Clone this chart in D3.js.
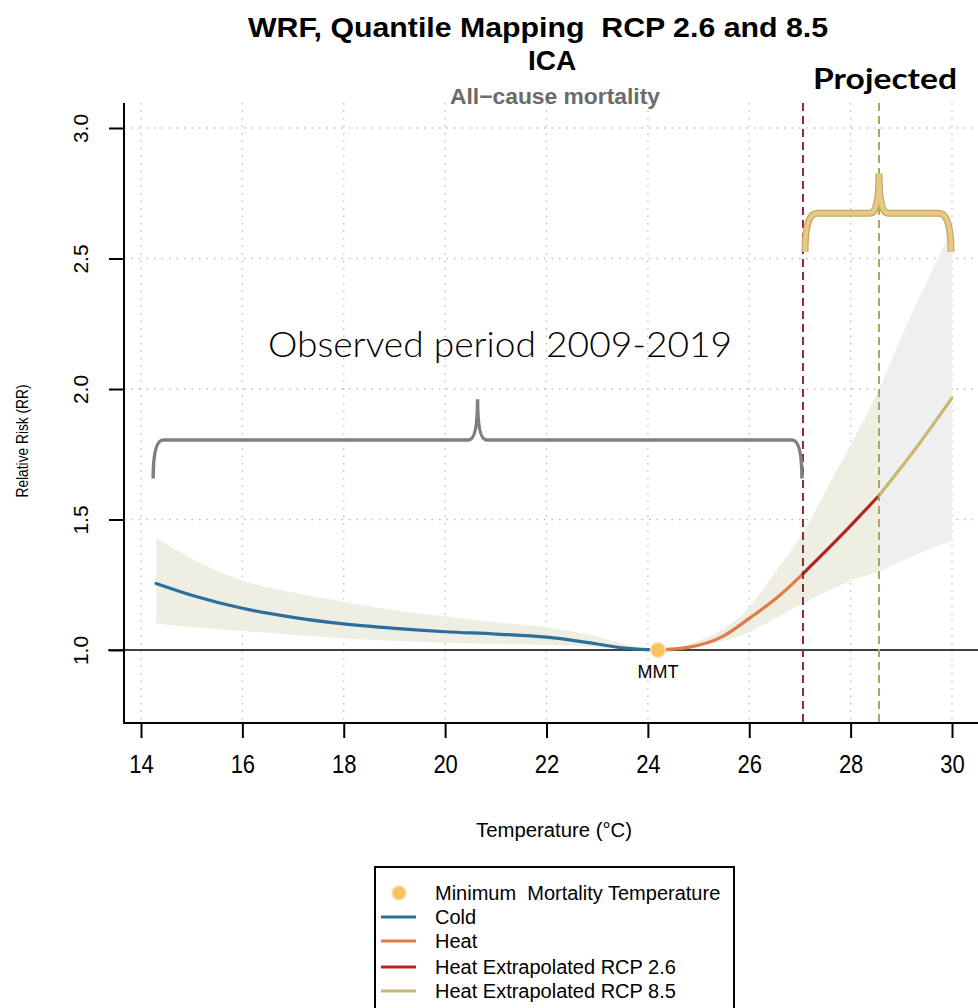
<!DOCTYPE html>
<html>
<head>
<meta charset="utf-8">
<script src="https://cdn.jsdelivr.net/npm/d3@7"></script>
<style>
  body { margin: 0; background: white; }
  svg { display: block; font-family: "Liberation Sans", Arial, sans-serif; }
</style>
</head>
<body>
<div id="chart"></div>
<script>
// Values (temperature in °C, relative risk)
const xTicks = [14, 16, 18, 20, 22, 24, 26, 28, 30];
const yTicks = [1.0, 1.5, 2.0, 2.5, 3.0];

const mmtTemp = 24.2;
const cutRcp26 = 27.06;   // red dashed line
const cutRcp85 = 28.56;   // olive dashed line

// cold branch
const coldTemp  = [14.3, 15, 16, 17, 18, 19, 20, 21, 22, 23, 23.6, 24.2];
const coldRR    = [1.255, 1.21, 1.16, 1.125, 1.10, 1.083, 1.070, 1.061, 1.049, 1.023, 1.006, 1.0];
const coldUpper = [1.43, 1.35, 1.266, 1.22, 1.185, 1.152, 1.128, 1.106, 1.087, 1.051, 1.02, 1.0];
const coldLower = [1.102, 1.088, 1.073, 1.058, 1.045, 1.035, 1.028, 1.023, 1.019, 1.01, 1.004, 1.0];

// heat branch (observed)
const heatTemp = [24.2, 24.8, 25.46, 26.02, 26.58, 27.06];
const heatRR   = [1.0, 1.01, 1.05, 1.124, 1.206, 1.292];

// extrapolations
const rcp26Temp = [27.06, 27.79, 28.56];
const rcp26RR   = [1.292, 1.434, 1.592];
const rcp85Temp = [28.56, 29.28, 30.0];
const rcp85RR   = [1.592, 1.771, 1.966];

// confidence band on the heat side up to the RCP 8.5 line
const heatBandTemp  = [24.2, 24.6, 25.0, 25.5, 26.0, 26.5, 27.06, 27.59, 28.07, 28.56];
const heatBandUpper = [1.0, 1.01, 1.035, 1.08, 1.165, 1.295, 1.45, 1.64, 1.81, 1.996];
const heatBandLower = [1.0, 1.002, 1.012, 1.035, 1.068, 1.12, 1.178, 1.23, 1.27, 1.30];

// band beyond the RCP 8.5 line (grey)
const farBandTemp  = [28.56, 29.23, 29.6, 30.0];
const farBandUpper = [1.996, 2.30, 2.45, 2.62];
const farBandLower = [1.30, 1.36, 1.39, 1.42];

const legendLabels = ["Minimum  Mortality Temperature", "Cold", "Heat",
                      "Heat Extrapolated RCP 2.6", "Heat Extrapolated RCP 8.5"];

const width = 978, height = 1008;
const plot = { left: 124, top: 103, bottom: 723, right: 978 };

const svg = d3.select('#chart')
  .append('svg')
  .attr('width', width)
  .attr('height', height);

const x = d3.scaleLinear().domain([14, 30]).range([141, 952]);
const y = d3.scaleLinear().domain([1, 3]).range([650, 128]);

const zip = (ts, vs) => ts.map((t, i) => ({ t: t, v: vs[i] }));
const zipBand = (ts, lo, hi) => ts.map((t, i) => ({ t: t, lo: lo[i], hi: hi[i] }));

// dotted grid
svg.append('g').selectAll('line')
  .data(xTicks).enter().append('line')
  .attr('x1', d => x(d)).attr('x2', d => x(d))
  .attr('y1', plot.top).attr('y2', plot.bottom)
  .attr('stroke', '#bdbdbd').attr('stroke-width', 1.3)
  .attr('stroke-dasharray', '1.5,6');

svg.append('g').selectAll('line')
  .data(yTicks.filter(d => d > 1)).enter().append('line')
  .attr('x1', plot.left).attr('x2', plot.right)
  .attr('y1', d => y(d)).attr('y2', d => y(d))
  .attr('stroke', '#bdbdbd').attr('stroke-width', 1.3)
  .attr('stroke-dasharray', '1.5,6');

// confidence bands
const area = d3.area()
  .x(d => x(d.t)).y0(d => y(d.lo)).y1(d => y(d.hi))
  .curve(d3.curveMonotoneX);

svg.append('path')
  .datum(zipBand(farBandTemp, farBandLower, farBandUpper))
  .attr('d', area).attr('fill', '#efefef');

svg.append('path')
  .datum(zipBand(coldTemp, coldLower, coldUpper))
  .attr('d', area).attr('fill', '#eeeee2');

svg.append('path')
  .datum(zipBand(heatBandTemp, heatBandLower, heatBandUpper))
  .attr('d', area).attr('fill', '#eeeee2');

// RR = 1 reference line
svg.append('line')
  .attr('x1', 108).attr('x2', plot.right)
  .attr('y1', y(1)).attr('y2', y(1))
  .attr('stroke', 'black').attr('stroke-width', 1.5);

// curves
const line = d3.line()
  .x(d => x(d.t)).y(d => y(d.v))
  .curve(d3.curveMonotoneX);

const series = [
  { t: coldTemp,  v: coldRR,  color: '#2c6e9c' },
  { t: heatTemp,  v: heatRR,  color: '#e27b47' },
  { t: rcp26Temp, v: rcp26RR, color: '#b3261e' },
  { t: rcp85Temp, v: rcp85RR, color: '#c9b872' }
];
series.forEach(s => {
  svg.append('path')
    .datum(zip(s.t, s.v))
    .attr('d', line)
    .attr('fill', 'none')
    .attr('stroke', s.color)
    .attr('stroke-width', 3.2)
    .attr('stroke-linecap', 'round');
});

// projection cut lines
[[cutRcp26, '#8e2a3c'], [cutRcp85, '#aaa765']].forEach(c => {
  svg.append('line')
    .attr('x1', x(c[0])).attr('x2', x(c[0]))
    .attr('y1', plot.top).attr('y2', plot.bottom)
    .attr('stroke', c[1]).attr('stroke-width', 2)
    .attr('stroke-dasharray', '8,5');
});

// MMT point
svg.append('circle')
  .attr('cx', x(mmtTemp)).attr('cy', y(1)).attr('r', 7.5)
  .attr('fill', '#f6c35c').attr('stroke', '#f3e3bc').attr('stroke-width', 1.5);

svg.append('text')
  .text('MMT')
  .attr('x', x(mmtTemp)).attr('y', y(1) + 28)
  .attr('text-anchor', 'middle')
  .attr('font-size', 18);

// axes (R style, bty = "l")
svg.append('line')
  .attr('x1', plot.left).attr('x2', plot.left)
  .attr('y1', plot.top).attr('y2', plot.bottom + 1)
  .attr('stroke', 'black').attr('stroke-width', 2);
svg.append('line')
  .attr('x1', plot.left).attr('x2', plot.right)
  .attr('y1', plot.bottom).attr('y2', plot.bottom)
  .attr('stroke', 'black').attr('stroke-width', 2);

let xAxis = svg.append('g')
  .attr('transform', `translate(0,${plot.bottom})`)
  .call(d3.axisBottom(x).tickValues(xTicks).tickSize(15).tickPadding(17).tickFormat(d3.format('d')));
xAxis.select('.domain').remove();
xAxis.selectAll('line').attr('stroke-width', 2);
xAxis.selectAll('text')
  .attr('font-size', 25)
  .attr('font-family', '"Liberation Sans", Arial, sans-serif')
  .attr('transform', 'scale(0.88,1)');

let yAxis = svg.append('g')
  .attr('transform', `translate(${plot.left},0)`)
  .call(d3.axisLeft(y).tickValues(yTicks).tickSize(15).tickFormat(d3.format('.1f')));
yAxis.select('.domain').remove();
yAxis.selectAll('line').attr('stroke-width', 2);
yAxis.selectAll('text')
  .attr('font-size', 21)
  .attr('font-family', '"Liberation Sans", Arial, sans-serif')
  .attr('text-anchor', 'middle')
  .attr('x', 0).attr('dy', 0)
  .attr('transform', 'translate(-36,0) rotate(-90)');

// axis titles
svg.append('text')
  .text('Temperature (°C)')
  .attr('x', 554).attr('y', 837)
  .attr('text-anchor', 'middle')
  .attr('font-size', 20)
  .attr('textLength', 156).attr('lengthAdjust', 'spacingAndGlyphs');

svg.append('text')
  .text('Relative Risk (RR)')
  .attr('transform', 'translate(28,441) rotate(-90)')
  .attr('text-anchor', 'middle')
  .attr('font-size', 17)
  .attr('textLength', 113).attr('lengthAdjust', 'spacingAndGlyphs');

// titles
svg.append('text')
  .text('WRF, Quantile Mapping  RCP 2.6 and 8.5')
  .attr('x', 538).attr('y', 37)
  .attr('text-anchor', 'middle')
  .attr('font-size', 28).attr('font-weight', 'bold')
  .attr('textLength', 580).attr('lengthAdjust', 'spacingAndGlyphs')
  .style('white-space', 'pre');

svg.append('text')
  .text('ICA')
  .attr('x', 552).attr('y', 70)
  .attr('text-anchor', 'middle')
  .attr('font-size', 28).attr('font-weight', 'bold');

svg.append('text')
  .text('All\u2212cause mortality')
  .attr('x', 555).attr('y', 104)
  .attr('text-anchor', 'middle')
  .attr('font-size', 22).attr('font-weight', 'bold')
  .attr('fill', '#6b6b6b')
  .attr('textLength', 210).attr('lengthAdjust', 'spacingAndGlyphs');

// annotation braces, defined in data units
function bracePath(t0, t1, tm, vBase, vEnd, vTip, r, w) {
  const x0 = x(t0), x1 = x(t1), xm = x(tm);
  const yb = y(vBase), ye = y(vEnd), yt = y(vTip);
  return `M${x0},${ye} Q${x0},${yb} ${x0 + r},${yb} L${xm - w},${yb} ` +
         `Q${xm},${yb} ${xm},${yt} Q${xm},${yb} ${xm + w},${yb} ` +
         `L${x1 - r},${yb} Q${x1},${yb} ${x1},${ye}`;
}

svg.append('path')
  .attr('d', bracePath(14.24, 27.04, 20.64, 1.805, 1.657, 1.961, 10, 9))
  .attr('fill', 'none').attr('stroke', '#7f7f7f').attr('stroke-width', 3.5);

svg.append('path')
  .attr('d', bracePath(27.1, 29.98, cutRcp85, 2.673, 2.526, 2.826, 12, 9))
  .attr('fill', 'none').attr('stroke', '#c9a760').attr('stroke-width', 7);
svg.append('path')
  .attr('d', bracePath(27.1, 29.98, cutRcp85, 2.673, 2.526, 2.826, 12, 9))
  .attr('fill', 'none').attr('stroke', '#e6c985').attr('stroke-width', 4.5);

svg.append('text')
  .text('Observed period 2009-2019')
  .attr('x', 268).attr('y', 357)
  .attr('font-family', 'Lato, "Open Sans", sans-serif')
  .attr('font-weight', 300)
  .attr('font-size', 35)
  .attr('textLength', 464).attr('lengthAdjust', 'spacingAndGlyphs');

svg.append('text')
  .text('Projected')
  .attr('x', 813).attr('y', 89)
  .attr('font-family', 'Lato, "Open Sans", sans-serif')
  .attr('font-weight', 'bold')
  .attr('font-size', 28)
  .attr('textLength', 144).attr('lengthAdjust', 'spacingAndGlyphs');

// legend
const legend = svg.append('g');
legend.append('rect')
  .attr('x', 375).attr('y', 867)
  .attr('width', 359).attr('height', 160)
  .attr('fill', 'white').attr('stroke', 'black').attr('stroke-width', 2);

const legendColors = [null, '#2c6e9c', '#e27b47', '#b3261e', '#c9b872'];
const legendY = [893, 917, 941, 967, 991];

legendLabels.forEach((label, i) => {
  if (i === 0) {
    legend.append('circle')
      .attr('cx', 399).attr('cy', legendY[i]).attr('r', 7)
      .attr('fill', '#f6c35c').attr('stroke', '#f3e3bc').attr('stroke-width', 1.5);
  } else {
    legend.append('line')
      .attr('x1', 381).attr('x2', 416)
      .attr('y1', legendY[i]).attr('y2', legendY[i])
      .attr('stroke', legendColors[i]).attr('stroke-width', 3);
  }
  legend.append('text')
    .text(label)
    .attr('x', 435).attr('y', legendY[i] + 7)
    .attr('font-size', 20)
    .style('white-space', 'pre');
});
</script>
</body>
</html>
